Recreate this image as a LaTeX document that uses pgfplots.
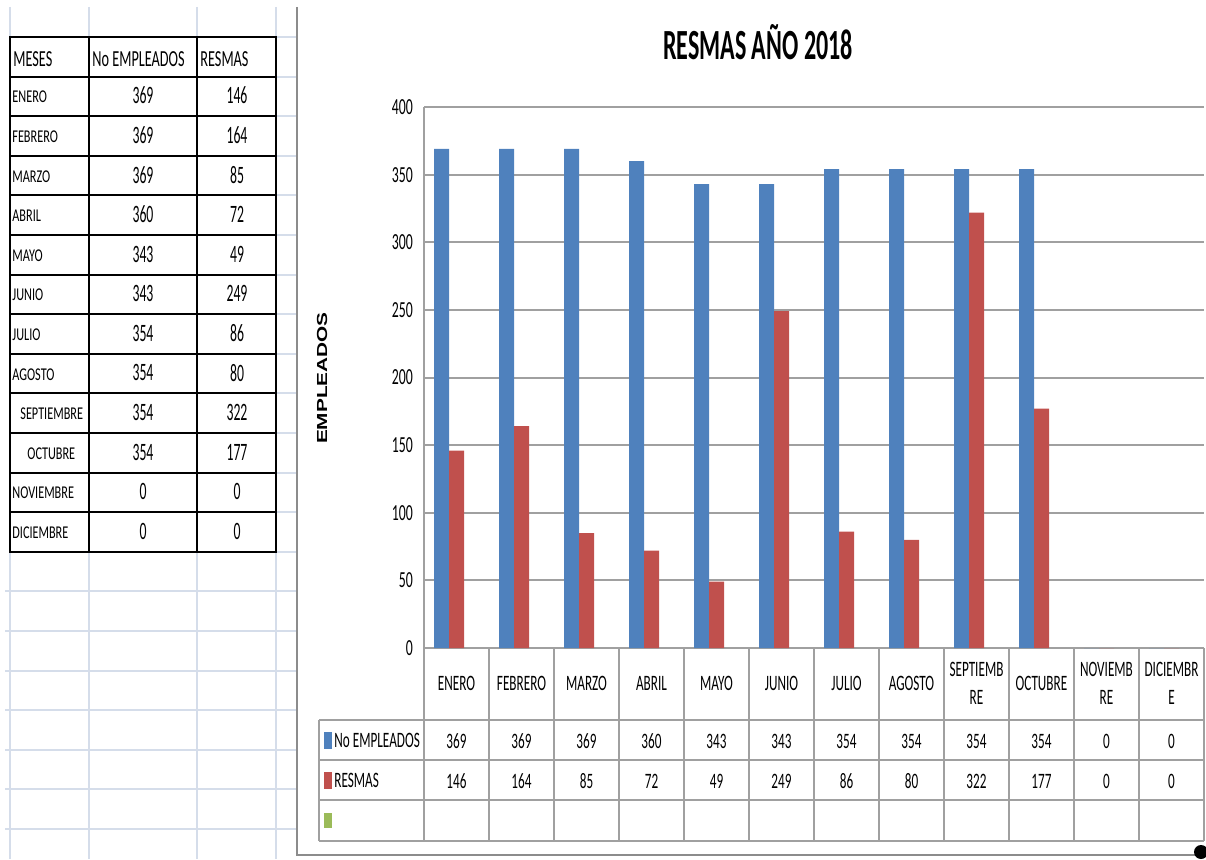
\documentclass[border=0pt]{standalone}
\usepackage{pgfplots}
\pgfplotsset{compat=1.18}
\usepackage{pgfplotstable}
\usepackage{fontspec}
\setmainfont{Carlito}
\newfontfamily\cf[FakeStretch=0.6]{Carlito}
\newfontfamily\ct[FakeStretch=0.56]{Carlito}
\newfontfamily\cm[FakeStretch=0.68]{Carlito}
\newfontfamily\cn[FakeStretch=0.55]{Carlito}
\newfontfamily\ch[FakeStretch=0.62]{Carlito}
\newfontfamily\arb{Liberation Sans}

\definecolor{xlblue}{HTML}{4F81BD}
\definecolor{xlred}{HTML}{C0504D}
\definecolor{xlgreen}{HTML}{9BBB59}
\definecolor{xlgrid}{HTML}{A0A0A0}
\definecolor{xlsheet}{HTML}{D5DDEA}
\definecolor{xlframe}{HTML}{8C8C8C}

% resmas 2018: x = mes (0 = enero)
\pgfplotstableread{
x emp res
0 369 146
1 369 164
2 369 85
3 360 72
4 343 49
5 343 249
6 354 86
7 354 80
8 354 322
9 354 177
10 0 0
11 0 0
}\datos

\begin{document}
\begin{tikzpicture}[x=0.5pt,y=0.5pt]
\path[use as bounding box] (0,0) rectangle (1206,859);

% --- hoja de calculo (coordenadas en pixeles, y hacia abajo)
\begin{scope}[shift={(0,859)},yscale=-1]
  \foreach \yy in {591.4,631,670.6,710.2,749.8,789.4,829}
    \draw[xlsheet, line width=1pt] (5,\yy) -- (297,\yy);
  \foreach \yy in {37,76.6,...,552}
    \draw[xlsheet, line width=1pt] (276,\yy) -- (297,\yy);
  \foreach \xx in {10,89,197,276}
    \draw[xlsheet, line width=1pt] (\xx,7) -- (\xx,859);

  \draw[line width=1pt] (10,37) rectangle (276,551.8);
  \foreach \k in {1,...,12}
    \draw[line width=1pt] (10,37+39.6*\k) -- (276,37+39.6*\k);
  \draw[line width=1pt] (89,37) -- (89,551.8);
  \draw[line width=1pt] (197,37) -- (197,551.8);

  \begin{scope}[every node/.style={inner sep=0pt}]
    \node[anchor=west, font=\ch\fontsize{11.5}{13}\selectfont] at (13,59) {MESES};
    \node[anchor=west, font=\ch\fontsize{11.5}{13}\selectfont] at (92,59) {No EMPLEADOS};
    \node[anchor=west, font=\ch\fontsize{11.5}{13}\selectfont] at (200,59) {RESMAS};
    \foreach \m/\o/\e/\r [count=\k] in {ENERO/0/369/146, FEBRERO/0/369/164,
        MARZO/0/369/85, ABRIL/0/360/72, MAYO/0/343/49, JUNIO/0/343/249,
        JULIO/0/354/86, AGOSTO/0/354/80, SEPTIEMBRE/8/354/322,
        OCTUBRE/15/354/177, NOVIEMBRE/0/0/0, DICIEMBRE/0/0/0} {
      \node[anchor=west, font=\cm\fontsize{9}{10}\selectfont] at (12+\o,37+39.6*\k+20.5) {\m};
      \node[font=\cn\fontsize{12.5}{14}\selectfont] at (143,37+39.6*\k+19) {\e};
      \node[font=\cn\fontsize{12.5}{14}\selectfont] at (237,37+39.6*\k+19) {\r};
    }
  \end{scope}

  % marco del grafico
  \draw[xlframe, line width=0.8pt] (297,7) -- (297,855) -- (1206,855);
  \fill (1201,852) circle (7);
\end{scope}

% --- grafico
\begin{axis}[
    at={(212pt,105.5pt)}, anchor=south west,
    scale only axis, width=390pt, height=270.5pt,
    xmin=-0.5, xmax=11.5, ymin=0, ymax=400,
    axis x line*=bottom, axis y line*=left,
    axis line style={draw=xlgrid, line width=1pt, -},
    ytick={0,50,...,400},
    ymajorgrids, grid style={draw=xlgrid, line width=1pt},
    major tick length=0pt,
    /pgf/number format/assume math mode=true,
    yticklabel style={font=\cf\fontsize{11.5}{13}\selectfont, xshift=-2pt},
    xtick={0,...,11},
    xticklabels={ENERO,FEBRERO,MARZO,ABRIL,MAYO,JUNIO,JULIO,AGOSTO,
      {SEPTIEMB\\RE},OCTUBRE,{NOVIEMB\\RE},{DICIEMBR\\E}},
    xticklabel style={font=\cf\fontsize{11}{14}\selectfont, align=center,
      anchor=center, yshift=-17.5pt},
    clip=false,
]
\addplot[ybar, bar width=7.5pt, bar shift=-7.5pt, fill=xlblue, draw=none]
  table[x=x, y=emp] {\datos};
\addplot[ybar, bar width=7.5pt, bar shift=0pt, fill=xlred, draw=none]
  table[x=x, y=res] {\datos};
\end{axis}

% --- tabla de datos bajo el grafico
\begin{scope}[shift={(0,859)},yscale=-1]
  \foreach \yy in {720,760,800,841}
    \draw[xlgrid, line width=1pt] (319,\yy) -- (1204,\yy);
  \draw[xlgrid, line width=1pt] (319,720) -- (319,841);
  \foreach \k in {0,...,12}
    \draw[xlgrid, line width=1pt] (424+65*\k,648) -- (424+65*\k,841);

  \fill[xlblue] (324,732) rectangle (332,749);
  \fill[xlred] (324,772) rectangle (332,789);
  \fill[xlgreen] (324,813) rectangle (332,828);
  \begin{scope}[every node/.style={inner sep=0pt, font=\cf\fontsize{11}{13}\selectfont}]
    \node[anchor=west] at (334,740) {No EMPLEADOS};
    \node[anchor=west] at (334,780) {RESMAS};
    \foreach \v [count=\i from 0] in {369,369,369,360,343,343,354,354,354,354,0,0}
      \node at (456.5+65*\i,741) {\v};
    \foreach \v [count=\i from 0] in {146,164,85,72,49,249,86,80,322,177,0,0}
      \node at (456.5+65*\i,781) {\v};
  \end{scope}
\end{scope}

% titulos
\node[anchor=base, inner sep=0pt, font=\ct\bfseries\fontsize{21.5}{24}\selectfont]
  at (758,859-60) {RESMAS AÑO 2018};
\node[rotate=90, inner sep=0pt] at (322,859-378)
  {\scalebox{1}[0.7]{\arb\bfseries\fontsize{10.4}{12}\selectfont EMPLEADOS}};
\end{tikzpicture}
\end{document}
